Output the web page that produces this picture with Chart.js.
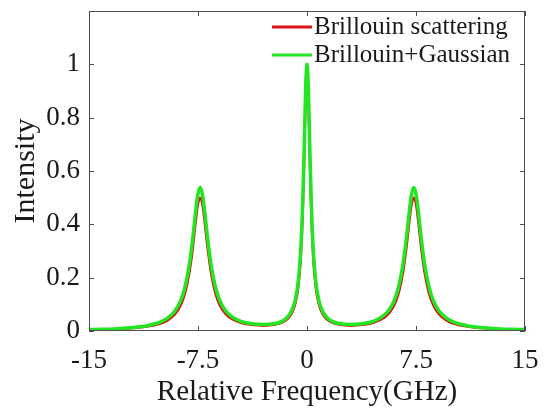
<!DOCTYPE html>
<html>
<head>
<meta charset="utf-8">
<script src="https://cdn.jsdelivr.net/npm/chart.js@4.4.1/dist/chart.umd.min.js"></script>
<style>
  html, body { margin: 0; padding: 0; background: #fff; }
  #wrap { width: 546px; height: 408px; }
</style>
</head>
<body>
<div id="wrap"><canvas id="spectrum" width="546" height="408"></canvas></div>
<script>
// values (GHz vs. normalised intensity)
const freq = [-15, -14, -13, -12, -11, -10.2, -9.6, -9.1, -8.7, -8.4, -8.1, -7.85, -7.65, -7.5, -7.35, -7.2, -7.05, -6.85, -6.6, -6.3, -6.0, -5.6, -5.1, -4.5, -3.8, -3, -2.2, -1.7, -1.3, -1.0, -0.8, -0.6, -0.45, -0.3, -0.2, -0.1,
  0, 0.1, 0.2, 0.3, 0.45, 0.6, 0.8, 1.0, 1.3, 1.7, 2.2, 3, 3.8, 4.5, 5.1, 5.6, 6.0, 6.3, 6.6, 6.85, 7.05, 7.2, 7.35, 7.5, 7.65, 7.85, 8.1, 8.4, 8.7, 9.1, 9.6, 10.2, 11, 12, 13, 14, 15];

const brillouin = [0.0043, 0.0055, 0.0074, 0.011, 0.017, 0.026, 0.040, 0.062, 0.096, 0.140, 0.217, 0.316, 0.415, 0.477, 0.500, 0.477, 0.415, 0.317, 0.217, 0.141, 0.097, 0.064, 0.043, 0.030, 0.023, 0.020, 0.024, 0.032, 0.047, 0.072, 0.104, 0.166, 0.258, 0.437, 0.636, 0.879,
  1.0, 0.879, 0.636, 0.437, 0.258, 0.166, 0.104, 0.072, 0.047, 0.032, 0.024, 0.020, 0.023, 0.030, 0.043, 0.064, 0.097, 0.141, 0.217, 0.317, 0.415, 0.477, 0.500, 0.477, 0.415, 0.316, 0.217, 0.140, 0.096, 0.062, 0.040, 0.026, 0.017, 0.011, 0.0074, 0.0055, 0.0043];

const brillouinGauss = [0.0052, 0.0067, 0.0089, 0.013, 0.020, 0.031, 0.048, 0.074, 0.113, 0.164, 0.248, 0.353, 0.453, 0.514, 0.538, 0.514, 0.453, 0.354, 0.248, 0.165, 0.114, 0.076, 0.051, 0.035, 0.027, 0.024, 0.028, 0.037, 0.055, 0.083, 0.119, 0.188, 0.288, 0.475, 0.671, 0.896,
  1.0, 0.896, 0.671, 0.475, 0.288, 0.188, 0.119, 0.083, 0.055, 0.037, 0.028, 0.024, 0.027, 0.035, 0.051, 0.076, 0.114, 0.165, 0.248, 0.354, 0.453, 0.514, 0.538, 0.514, 0.453, 0.353, 0.248, 0.164, 0.113, 0.074, 0.048, 0.031, 0.020, 0.013, 0.0089, 0.0067, 0.0052];

const xTicks = [-15, -7.5, 0, 7.5, 15];
const yTicks = [0, 0.2, 0.4, 0.6, 0.8, 1];

const serif = "'Liberation Serif', 'Times New Roman', serif";
const ink = '#1a1a1a';

// box around the plot with inward ticks on all four sides
const framePlugin = {
  id: 'frame',
  afterDraw(chart) {
    const { ctx, chartArea: a, scales } = chart;
    const len = 5;
    ctx.save();
    ctx.strokeStyle = '#4d4d4d';
    ctx.lineWidth = 1;
    ctx.strokeRect(a.left + 0.5, a.top + 0.5, a.right - a.left - 1, a.bottom - a.top - 1);
    ctx.beginPath();
    xTicks.forEach(v => {
      const px = Math.round(scales.x.getPixelForValue(v)) + 0.5;
      ctx.moveTo(px, a.bottom); ctx.lineTo(px, a.bottom - len);
      ctx.moveTo(px, a.top); ctx.lineTo(px, a.top + len);
    });
    yTicks.forEach(v => {
      const py = Math.round(scales.y.getPixelForValue(v)) + 0.5;
      ctx.moveTo(a.left, py); ctx.lineTo(a.left + len, py);
      ctx.moveTo(a.right, py); ctx.lineTo(a.right - len, py);
    });
    ctx.stroke();
    ctx.restore();
  }
};

// legend drawn inside the top right corner, no box
const legendPlugin = {
  id: 'innerLegend',
  afterDatasetsDraw(chart) {
    const { ctx } = chart;
    const rows = [chart.data.datasets[1], chart.data.datasets[0]];
    ctx.save();
    ctx.font = '25px ' + serif;
    ctx.textBaseline = 'middle';
    ctx.textAlign = 'left';
    rows.forEach((ds, i) => {
      const y = 27 + i * 28;
      ctx.strokeStyle = ds.borderColor;
      ctx.lineWidth = 3;
      ctx.beginPath();
      ctx.moveTo(272, y);
      ctx.lineTo(312, y);
      ctx.stroke();
      ctx.fillStyle = ink;
      ctx.fillText(ds.label, 314, y);
    });
    ctx.restore();
  }
};

new Chart(document.getElementById('spectrum'), {
  type: 'line',
  data: {
    datasets: [
      {
        label: 'Brillouin+Gaussian',
        data: freq.map((f, i) => ({ x: f, y: brillouinGauss[i] })),
        borderColor: '#22e622',
        borderWidth: 3.5,
        pointRadius: 0,
        cubicInterpolationMode: 'monotone',
        order: 0
      },
      {
        label: 'Brillouin scattering',
        data: freq.map((f, i) => ({ x: f, y: brillouin[i] })),
        borderColor: '#dd1111',
        borderWidth: 2.5,
        pointRadius: 0,
        cubicInterpolationMode: 'monotone',
        order: 1
      }
    ]
  },
  options: {
    responsive: false,
    animation: false,
    devicePixelRatio: 1,
    layout: { padding: { top: 11, right: 21, bottom: 0, left: 0 } },
    plugins: {
      legend: { display: false },
      tooltip: { enabled: false }
    },
    scales: {
      x: {
        type: 'linear',
        min: -15,
        max: 15,
        afterBuildTicks: s => { s.ticks = xTicks.map(v => ({ value: v })); },
        afterFit: s => { s.height = 77; s.paddingLeft = 0; s.paddingRight = 0; },
        grid: { display: false, drawTicks: false },
        border: { display: false },
        ticks: {
          padding: 14,
          color: ink,
          font: { family: serif, size: 27 },
          maxRotation: 0,
          autoSkip: false,
          callback: v => String(v)
        },
        title: {
          display: true,
          text: 'Relative Frequency(GHz)',
          color: ink,
          font: { family: serif, size: 29, lineHeight: 1.1 },
          padding: { top: 0, bottom: 0 }
        }
      },
      y: {
        min: 0,
        max: 1.2,
        afterBuildTicks: s => { s.ticks = yTicks.map(v => ({ value: v })); },
        afterFit: s => { s.width = 89; s.paddingTop = 0; s.paddingBottom = 0; },
        grid: { display: false, drawTicks: false },
        border: { display: false },
        ticks: {
          padding: 9,
          color: ink,
          font: { family: serif, size: 27 },
          autoSkip: false,
          callback: v => String(v)
        },
        title: {
          display: true,
          text: 'Intensity',
          color: ink,
          font: { family: serif, size: 30, lineHeight: 1.1 },
          padding: { top: 10, bottom: 0 }
        }
      }
    }
  },
  plugins: [framePlugin, legendPlugin]
});
</script>
</body>
</html>
